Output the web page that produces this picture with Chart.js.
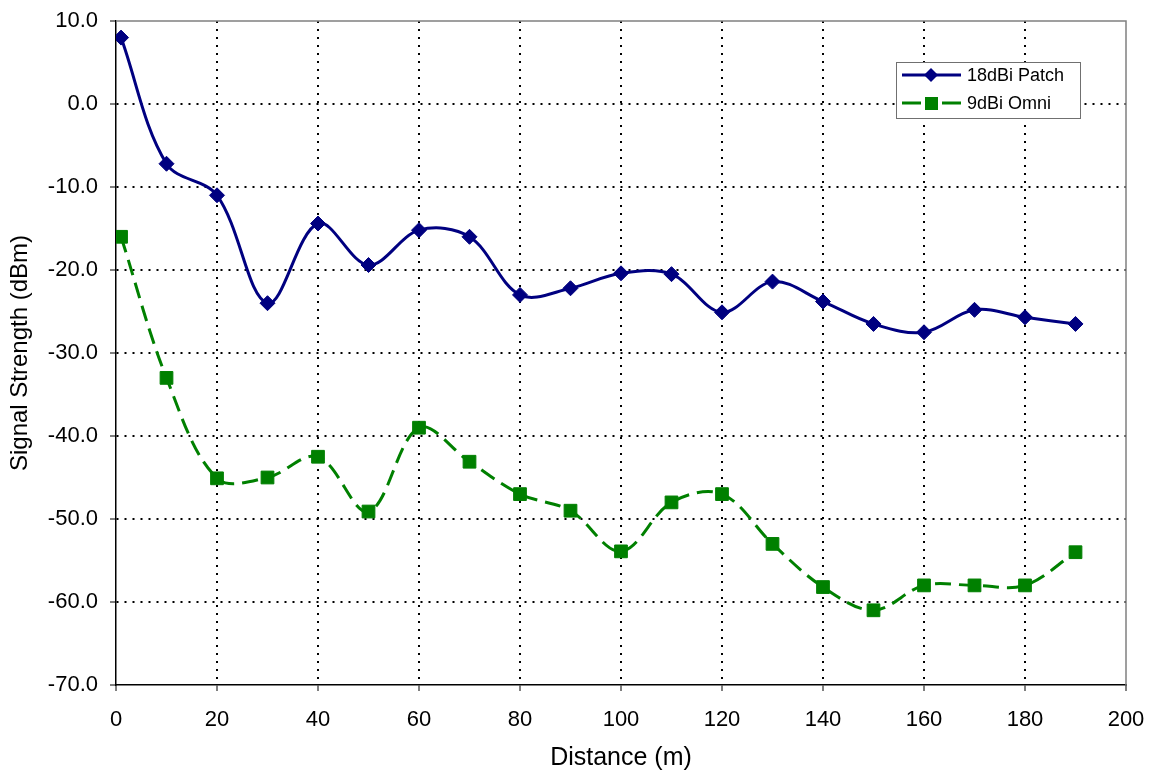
<!DOCTYPE html>
<html>
<head>
<meta charset="utf-8">
<script src="https://cdn.jsdelivr.net/npm/chart.js@4/dist/chart.umd.min.js"></script>
<style>
    html, body { margin: 0; padding: 0; background: #fff; }
    #wrap { width: 1158px; height: 773px; position: relative; }
</style>
</head>
<body>
<div id="wrap"><canvas id="signalChart" width="1158" height="773"></canvas></div>
<script>
// Distance (m) of each measurement
const distances = [1, 10, 20, 30, 40, 50, 60, 70, 80, 90, 100, 110, 120, 130, 140, 150, 160, 170, 180, 190];

// Signal strength (dBm) per antenna
const patchValues = [8.0, -7.2, -11.0, -24.0, -14.4, -19.4, -15.2, -16.0, -23.0, -22.2, -20.4, -20.5, -25.1, -21.4, -23.8, -26.5, -27.5, -24.8, -25.7, -26.5];
const omniValues = [-16.0, -33.0, -45.1, -45.0, -42.5, -49.1, -39.0, -43.1, -47.0, -49.0, -53.9, -48.0, -47.0, -53.0, -58.2, -61.0, -58.0, -58.0, -58.0, -54.0];

const seriesNames = ['18dBi Patch', '9dBi Omni'];

const FONT = 'Liberation Sans, Arial, sans-serif';

function toPoints(values) {
    return distances.map((d, i) => ({ x: d, y: values[i] }));
}

// Plot frame (grey top/right edge) + Excel-like legend box
const frameAndLegend = {
    id: 'frameAndLegend',
    afterDraw(chart) {
        const ctx = chart.ctx;
        const area = chart.chartArea;
        ctx.save();
        ctx.strokeStyle = '#808080';
        ctx.lineWidth = 1.5;
        ctx.beginPath();
        ctx.moveTo(area.left, area.top);
        ctx.lineTo(area.right, area.top);
        ctx.lineTo(area.right, area.bottom);
        ctx.stroke();

        // legend
        const bx = 896, by = 62, bw = 184, bh = 56;
        ctx.fillStyle = '#fff';
        ctx.fillRect(bx, by, bw, bh);
        ctx.strokeStyle = '#707070';
        ctx.lineWidth = 1;
        ctx.strokeRect(bx + 0.5, by + 0.5, bw, bh);

        const rows = [75, 103];
        chart.data.datasets.forEach((ds, i) => {
            const y = rows[i];
            ctx.strokeStyle = ds.borderColor;
            ctx.lineWidth = 3;
            ctx.beginPath();
            if (i === 0) {
                ctx.moveTo(902, y); ctx.lineTo(961, y);
            } else {
                ctx.moveTo(902, y); ctx.lineTo(921, y);
                ctx.moveTo(942, y); ctx.lineTo(961, y);
            }
            ctx.stroke();
            ctx.fillStyle = ds.pointBackgroundColor;
            ctx.beginPath();
            if (i === 0) {
                ctx.moveTo(931, y - 7); ctx.lineTo(938, y); ctx.lineTo(931, y + 7); ctx.lineTo(924, y);
                ctx.closePath();
            } else {
                ctx.rect(925, y - 6, 13, 13);
            }
            ctx.fill();
            ctx.fillStyle = '#000';
            ctx.font = '18px ' + FONT;
            ctx.textBaseline = 'middle';
            ctx.textAlign = 'left';
            ctx.fillText(seriesNames[i], 967, y + 1);
        });
        ctx.restore();
    }
};

new Chart(document.getElementById('signalChart'), {
    type: 'line',
    data: {
        datasets: [
            {
                label: seriesNames[0],
                data: toPoints(patchValues),
                borderColor: '#000080',
                backgroundColor: '#000080',
                pointBackgroundColor: '#000080',
                pointBorderColor: '#000080',
                pointStyle: 'rectRot',
                pointRadius: 7.5,
                pointBorderWidth: 1,
                borderWidth: 3,
                tension: 0.35,
                fill: false
            },
            {
                label: seriesNames[1],
                data: toPoints(omniValues),
                borderColor: '#008000',
                backgroundColor: '#008000',
                pointBackgroundColor: '#008000',
                pointBorderColor: '#008000',
                pointStyle: 'rect',
                pointRadius: 9,
                pointBorderWidth: 1,
                borderWidth: 3,
                borderDash: [16, 8],
                tension: 0.35,
                fill: false
            }
        ]
    },
    options: {
        responsive: false,
        animation: false,
        devicePixelRatio: 1,
        layout: { padding: { top: 21, right: 32, left: 0, bottom: 0 } },
        plugins: {
            legend: { display: false },
            tooltip: { enabled: false }
        },
        scales: {
            x: {
                type: 'linear',
                min: 0,
                max: 200,
                afterFit(scale) {
                    scale.height = 88;
                    scale.paddingLeft = 0;
                    scale.paddingRight = 0;
                },
                ticks: {
                    stepSize: 20,
                    color: '#000',
                    padding: 16,
                    maxRotation: 0,
                    font: { family: FONT, size: 22 }
                },
                grid: {
                    color: ctx => (ctx.tick && (ctx.tick.value === 0 || ctx.tick.value === 200)) ? 'rgba(0,0,0,0)' : '#000',
                    lineWidth: 2,
                    tickColor: '#000',
                    tickLength: 6,
                    tickWidth: 1
                },
                border: { color: '#000', width: 1.5, dash: [2, 6] },
                title: {
                    display: true,
                    text: 'Distance (m)',
                    color: '#000',
                    font: { family: FONT, size: 25 },
                    padding: { top: 0, bottom: 0 }
                }
            },
            y: {
                type: 'linear',
                min: -70,
                max: 10,
                afterFit(scale) {
                    scale.width = 116;
                    scale.paddingTop = 0;
                    scale.paddingBottom = 0;
                },
                ticks: {
                    stepSize: 10,
                    color: '#000',
                    padding: 12,
                    font: { family: FONT, size: 22 },
                    callback: v => v.toFixed(1)
                },
                grid: {
                    color: ctx => (ctx.tick && (ctx.tick.value === -70 || ctx.tick.value === 10)) ? 'rgba(0,0,0,0)' : '#000',
                    lineWidth: 2,
                    tickColor: '#000',
                    tickLength: 6,
                    tickWidth: 1
                },
                border: { color: '#000', width: 1.5, dash: [2, 6] },
                title: {
                    display: true,
                    text: 'Signal Strength (dBm)',
                    color: '#000',
                    font: { family: FONT, size: 24 },
                    padding: { top: 6, bottom: 0 }
                }
            }
        }
    },
    plugins: [frameAndLegend]
});
</script>
</body>
</html>
